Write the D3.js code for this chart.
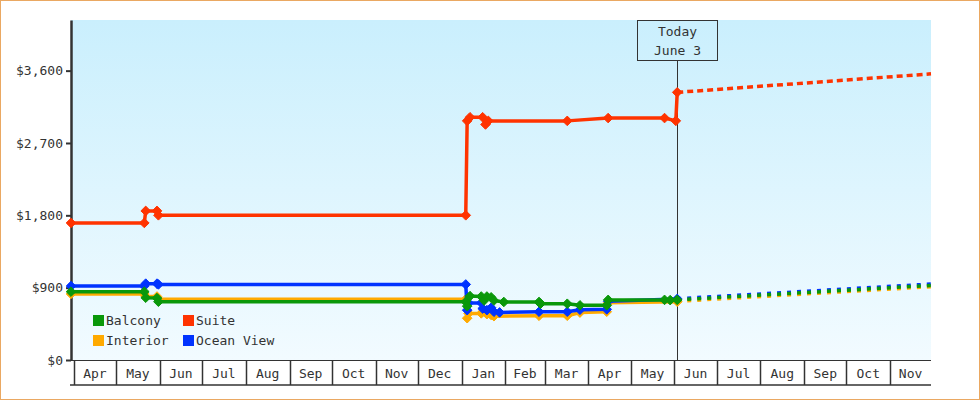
<!DOCTYPE html>
<html>
<head>
<meta charset="utf-8">
<script src="https://cdn.jsdelivr.net/npm/d3@7"></script>
<style>
  body { margin: 0; background: #fff; }
  text { font-family: "DejaVu Sans Mono", monospace; font-size: 13px; fill: #333; }
</style>
</head>
<body>
<div id="chart"></div>
<script>
// price history, [date, price]
var balcony = [
  ["2013-03-30", 850], ["2013-05-21", 850], ["2013-05-22", 775], ["2013-05-30", 770], ["2013-05-31", 725],
  ["2014-01-04", 725], ["2014-01-05", 670], ["2014-01-07", 795], ["2014-01-15", 790], ["2014-01-17", 740],
  ["2014-01-19", 790], ["2014-01-22", 780], ["2014-01-24", 740], ["2014-01-31", 722], ["2014-02-25", 722],
  ["2014-02-26", 700], ["2014-03-17", 700], ["2014-03-26", 680], ["2014-04-14", 680], ["2014-04-15", 748],
  ["2014-05-25", 748], ["2014-05-29", 745], ["2014-06-03", 748]
];
var suite = [
  ["2013-03-30", 1705], ["2013-05-21", 1705], ["2013-05-22", 1855], ["2013-05-30", 1855], ["2013-05-31", 1800],
  ["2014-01-04", 1800], ["2014-01-05", 2975], ["2014-01-07", 3020], ["2014-01-16", 3020], ["2014-01-18", 2930],
  ["2014-01-20", 2975], ["2014-03-17", 2975], ["2014-04-15", 3010], ["2014-05-25", 3010], ["2014-06-02", 2975],
  ["2014-06-03", 3330]
];
var interior = [
  ["2013-03-30", 822], ["2013-05-21", 822], ["2013-05-22", 790], ["2013-05-30", 790], ["2013-05-31", 755],
  ["2014-01-04", 755], ["2014-01-05", 520], ["2014-01-06", 580], ["2014-01-15", 580], ["2014-01-16", 600],
  ["2014-01-19", 570], ["2014-01-22", 560], ["2014-01-24", 545], ["2014-02-25", 550], ["2014-03-17", 550],
  ["2014-03-26", 590], ["2014-04-14", 600], ["2014-04-15", 712], ["2014-06-03", 725]
];
var oceanView = [
  ["2013-03-30", 920], ["2013-05-21", 920], ["2013-05-22", 950], ["2013-05-30", 950], ["2013-05-31", 940],
  ["2014-01-04", 940], ["2014-01-05", 620], ["2014-01-06", 710], ["2014-01-15", 710], ["2014-01-16", 640],
  ["2014-01-19", 620], ["2014-01-22", 650], ["2014-01-24", 600], ["2014-01-28", 592], ["2014-02-25", 600],
  ["2014-03-17", 600], ["2014-03-26", 625], ["2014-04-14", 630], ["2014-04-15", 730], ["2014-06-03", 760]
];

// projected prices from today
var balconyForecast = [["2014-06-03", 748], ["2014-11-30", 928]];
var suiteForecast = [["2014-06-03", 3330], ["2014-11-30", 3560]];
var interiorForecast = [["2014-06-03", 730], ["2014-11-30", 912]];
var oceanViewForecast = [["2014-06-03", 762], ["2014-11-30", 945]];

var legendNames = ["Balcony", "Suite", "Interior", "Ocean View"];
var yTicks = [0, 900, 1800, 2700, 3600];
var todayDate = "2014-06-03";
var todayLabel = ["Today", "June 3"];
var dateRange = ["2013-03-30", "2014-11-30"];

var parse = d3.timeParse("%Y-%m-%d");
function toPoints(arr) {
    return arr.map(d => ({date: parse(d[0]), price: d[1]}));
}

var series = [
  {name: "Interior", color: "#ffaa00", data: toPoints(interior), forecast: toPoints(interiorForecast), dash: "4,6"},
  {name: "Ocean View", color: "#0033ff", data: toPoints(oceanView), forecast: toPoints(oceanViewForecast), dash: "4,6"},
  {name: "Suite", color: "#ff3300", data: toPoints(suite), forecast: toPoints(suiteForecast), dash: "6,4"},
  {name: "Balcony", color: "#0a980a", data: toPoints(balcony), forecast: toPoints(balconyForecast), dash: "4,6"}
];
var colorOf = {};
series.forEach(s => colorOf[s.name] = s.color);

var W = 980, H = 400;
var plotLeft = 71, plotRight = 931, plotTop = 20, plotBottom = 360;

var svg = d3.select("#chart").append("svg")
            .attr("width", W)
            .attr("height", H);

var defs = svg.append("defs");
var grad = defs.append("linearGradient")
               .attr("id", "bg")
               .attr("x1", 0).attr("y1", 0).attr("x2", 0).attr("y2", 1);
grad.append("stop").attr("offset", "0%").attr("stop-color", "#caeffd");
grad.append("stop").attr("offset", "100%").attr("stop-color", "#f2fbff");

svg.append("rect")
   .attr("x", 0.5).attr("y", 0.5)
   .attr("width", W - 1).attr("height", H - 1)
   .attr("fill", "#fff")
   .attr("stroke", "#eaa862");

svg.append("rect")
   .attr("x", plotLeft).attr("y", plotTop)
   .attr("width", plotRight - plotLeft).attr("height", plotBottom - plotTop)
   .attr("fill", "url(#bg)");

var x = d3.scaleTime().domain(dateRange.map(parse)).range([plotLeft, plotRight]);
var y = d3.scaleLinear().domain([0, 4230]).range([plotBottom, plotTop]);

// month band under the plot
var months = d3.timeMonth.range(d3.timeMonth.ceil(x.domain()[0]), x.domain()[1]);
var band = svg.append("g").attr("class", "month-band");
band.append("line")
    .attr("x1", plotLeft - 1).attr("x2", plotRight)
    .attr("y1", plotBottom + 0.5).attr("y2", plotBottom + 0.5)
    .attr("stroke", "#333").attr("stroke-width", 1);
band.append("line")
    .attr("x1", plotLeft - 1).attr("x2", plotRight)
    .attr("y1", 385).attr("y2", 385)
    .attr("stroke", "#333").attr("stroke-width", 1.5);
band.selectAll(".sep")
    .data(months)
    .enter()
    .append("line")
    .attr("class", "sep")
    .attr("x1", d => Math.round(x(d)) + 0.5).attr("x2", d => Math.round(x(d)) + 0.5)
    .attr("y1", plotBottom).attr("y2", 385)
    .attr("stroke", "#333").attr("stroke-width", 1.5);
band.selectAll(".mlabel")
    .data(months)
    .enter()
    .append("text")
    .attr("class", "mlabel")
    .attr("x", d => (x(d) + Math.min(plotRight, x(d3.timeMonth.offset(d, 1)))) / 2)
    .attr("y", 378)
    .attr("text-anchor", "middle")
    .text(d => d3.timeFormat("%b")(d));

// y axis
var axisY = d3.axisLeft(y)
              .tickValues(yTicks)
              .tickSize(5)
              .tickSizeOuter(0)
              .tickFormat(d => "$" + d3.format(",")(d));
var gy = svg.append("g")
            .attr("class", "y-axis")
            .attr("transform", "translate(" + plotLeft + ",0)")
            .call(axisY);
gy.select(".domain").attr("stroke", "#333").attr("stroke-width", 2.5);
gy.selectAll(".tick line").attr("stroke", "#333").attr("stroke-width", 2);
gy.selectAll(".tick text")
  .attr("x", -8)
  .style("font-family", "DejaVu Sans Mono, monospace")
  .style("font-size", "13px")
  .attr("fill", "#333");

// today marker
var tx = Math.round(x(parse(todayDate))) + 0.5;
svg.append("line")
   .attr("x1", tx).attr("x2", tx)
   .attr("y1", 60).attr("y2", plotBottom)
   .attr("stroke", "#333").attr("stroke-width", 1);
svg.append("rect")
   .attr("x", tx - 40).attr("y", plotTop + 0.5)
   .attr("width", 80).attr("height", 40)
   .attr("fill", "none")
   .attr("stroke", "#333").attr("stroke-width", 1);
svg.selectAll(".today-text")
   .data(todayLabel)
   .enter()
   .append("text")
   .attr("class", "today-text")
   .attr("x", tx)
   .attr("y", (d, i) => 36 + i * 19)
   .attr("text-anchor", "middle")
   .text(d => d);

var line = d3.line().x(d => x(d.date)).y(d => y(d.price));
var diamond = "M0,-4.8L4.8,0L0,4.8L-4.8,0Z";

var lines = svg.append("g").attr("class", "series");
series.forEach(function(s) {
    var g = lines.append("g");
    g.append("path")
     .attr("d", line(s.forecast))
     .attr("fill", "none")
     .attr("stroke", s.color)
     .attr("stroke-width", 3.5)
     .attr("stroke-dasharray", s.dash);
    g.append("path")
     .attr("d", line(s.data))
     .attr("fill", "none")
     .attr("stroke", s.color)
     .attr("stroke-width", 3.5)
     .attr("stroke-linejoin", "round");
    g.selectAll(".pt")
     .data(s.data)
     .enter()
     .append("path")
     .attr("class", "pt")
     .attr("d", diamond)
     .attr("transform", d => "translate(" + x(d.date) + "," + y(d.price) + ")")
     .attr("fill", s.color)
     .attr("stroke", s.color)
     .attr("stroke-width", 1)
     .attr("stroke-linejoin", "round");
});

// legend, two columns
var legend = svg.append("g").attr("class", "legend");
legendNames.forEach(function(name, i) {
    var lx = 93 + (i % 2) * 90;
    var ly = 315 + Math.floor(i / 2) * 20;
    legend.append("rect")
          .attr("x", lx).attr("y", ly)
          .attr("width", 11).attr("height", 11)
          .attr("fill", colorOf[name]);
    legend.append("text")
          .attr("x", lx + 13).attr("y", ly + 10)
          .text(name);
});
</script>
</body>
</html>
